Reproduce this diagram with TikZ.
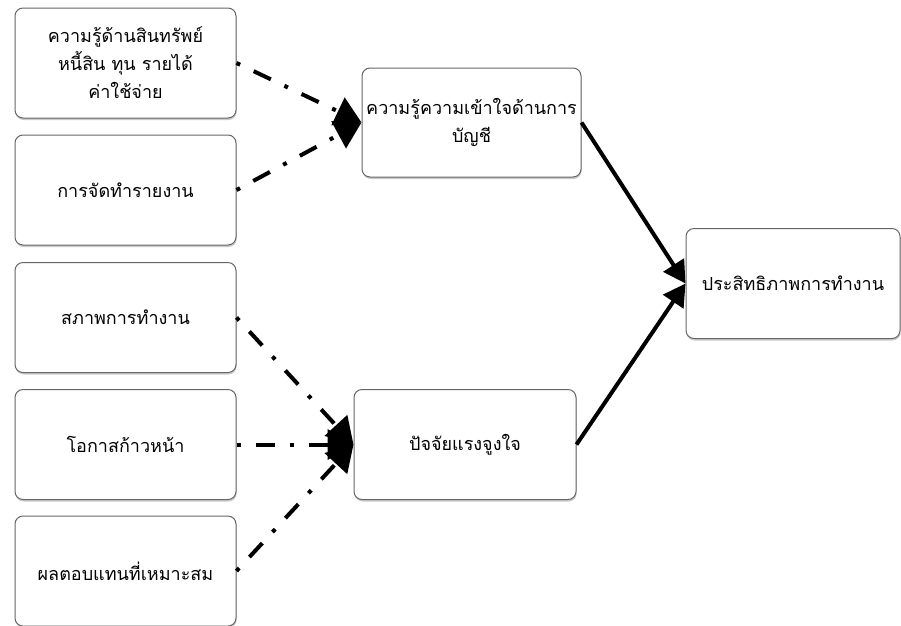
\documentclass[tikz,border=0pt]{standalone}
\usepackage{fontspec}
\setmainfont[Script=Thai]{Loma}
\usetikzlibrary{arrows.meta,shadows}
\begin{document}
\begin{tikzpicture}[x=1pt,y=-1pt,
		box/.style={draw=gray!80!black, line width=1pt, fill=white, rounded corners=8pt,
			align=center, inner sep=2pt, font=\fontsize{18}{28}\selectfont,
			drop shadow={shadow xshift=0.6pt, shadow yshift=-2pt, fill=gray!70, opacity=0.6}},
		factor/.style={box, minimum width=221pt, minimum height=110pt},
		dashlink/.style={line width=4pt, dash pattern=on 4pt off 15pt on 19pt off 15pt, -{Triangle[length=26pt,width=30pt]}},
		solidlink/.style={line width=4pt, -{Triangle[length=22pt,width=24pt]}}]
				\useasboundingbox (0,0) rectangle (901,625);
				\node (assets) [factor] at (125.5,63) {ความรู้ด้านสินทรัพย์\\หนี้สิน ทุน รายได้\\ค่าใช้จ่าย};
				\node (report) [factor] at (125.5,190) {การจัดทำรายงาน};
				\node (workenv) [factor] at (125.5,317.5) {สภาพการทำงาน};
				\node (advance) [factor] at (125.5,444.5) {โอกาสก้าวหน้า};
				\node (reward) [factor] at (125.5,571) {ผลตอบแทนที่เหมาะสม};
				\node (accounting) [box, minimum width=219pt, minimum height=109pt] at (471.5,122.5) {ความรู้ความเข้าใจด้านการ\\บัญชี};
				\node (motivation) [box, minimum width=222pt, minimum height=110pt] at (465,444.5) {ปัจจัยแรงจูงใจ};
				\node (efficiency) [box, minimum width=214pt, minimum height=110pt] at (793,283.5) {ประสิทธิภาพการทำงาน};
				% dash-dot links into the two middle boxes
				\draw [dashlink] (assets.east) -- (accounting.west);
				\draw [dashlink] (report.east) -- (accounting.west);
				\draw [dashlink] (workenv.east) -- (motivation.west);
				\draw [dashlink] (advance.east) -- (motivation.west);
				\draw [dashlink] (reward.east) -- (motivation.west);
				% solid links to the result
				\draw [solidlink] (accounting.east) -- (efficiency.west);
				\draw [solidlink] (motivation.east) -- (efficiency.west);
			\end{tikzpicture}
\end{document}
